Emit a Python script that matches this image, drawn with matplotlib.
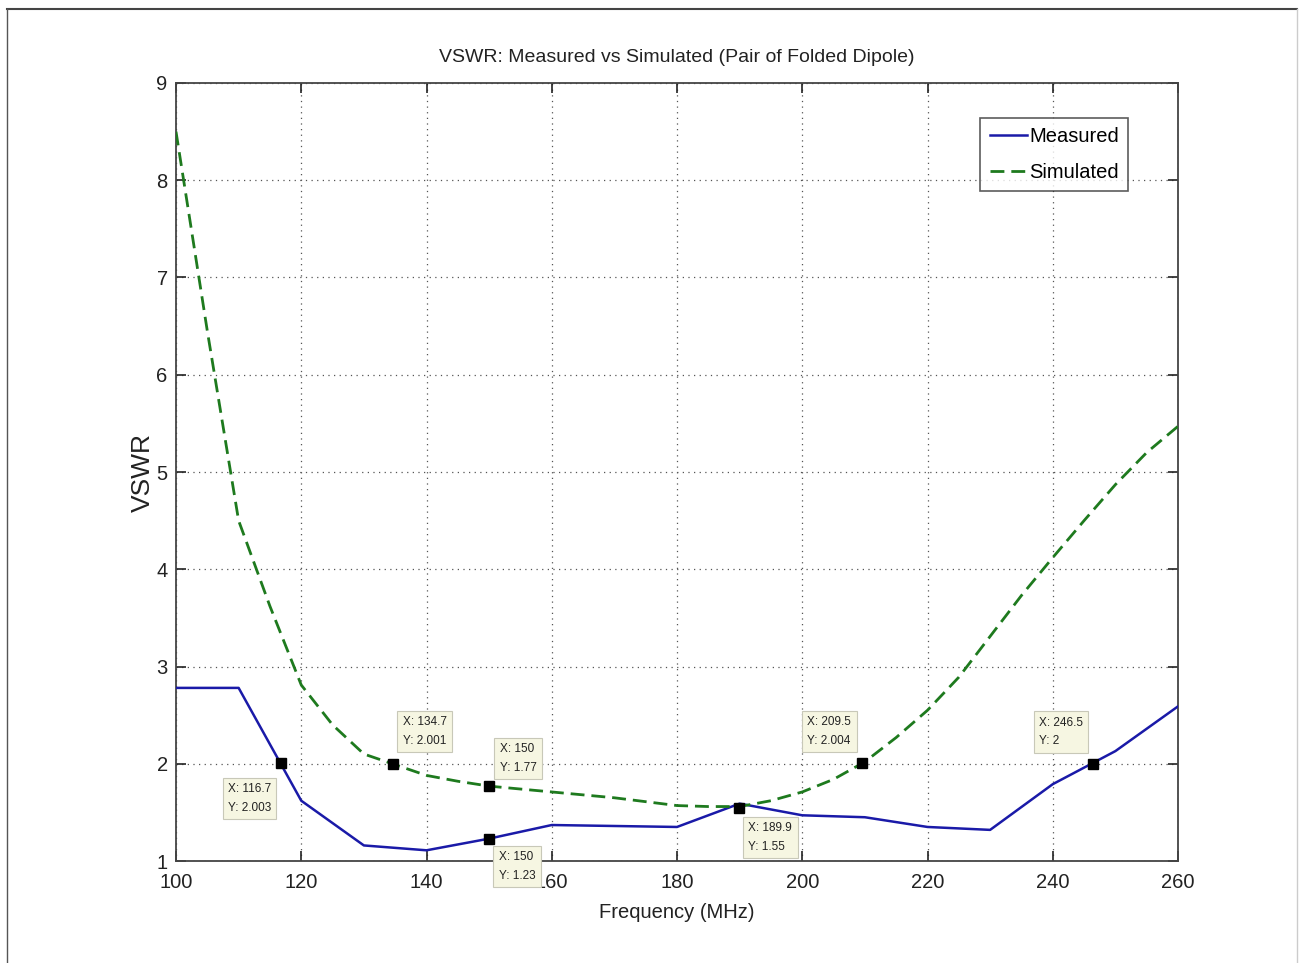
import matplotlib
matplotlib.use("Agg")
import matplotlib.pyplot as plt
from matplotlib.lines import Line2D

plt.rcParams['font.family'] = ['Liberation Sans', 'DejaVu Sans']

# ---- data ----
freq_measured = [100, 110, 120, 130, 140, 150, 160, 170, 180, 190,
                 200, 210, 220, 230, 240, 250, 260]
vswr_measured = [2.78, 2.78, 1.62, 1.16, 1.11, 1.23, 1.37, 1.36, 1.35, 1.59,
                 1.47, 1.45, 1.35, 1.32, 1.79, 2.13, 2.59]

freq_simulated = [100, 105, 110, 115, 120, 125, 130, 135, 140, 145, 150, 155,
                  160, 165, 170, 175, 180, 185, 190, 195, 200, 205, 210, 215,
                  220, 225, 230, 235, 240, 245, 250, 255, 260]
vswr_simulated = [8.50, 6.45, 4.50, 3.62, 2.81, 2.40, 2.10, 1.99, 1.88, 1.82, 1.77, 1.74,
                  1.71, 1.68, 1.65, 1.61, 1.57, 1.56, 1.56, 1.62, 1.71, 1.84, 2.02, 2.27,
                  2.55, 2.89, 3.31, 3.73, 4.12, 4.50, 4.87, 5.20, 5.47]

tip_x = [116.7, 134.7, 150, 150, 189.9, 209.5, 246.5]
tip_y = [2.003, 2.001, 1.77, 1.23, 1.55, 2.004, 2]
tip_xlabels = ["116.7", "134.7", "150", "150", "189.9", "209.5", "246.5"]
tip_ylabels = ["2.003", "2.001", "1.77", "1.23", "1.55", "2.004", "2"]

x_ticks = [100, 120, 140, 160, 180, 200, 220, 240, 260]
y_ticks = [1, 2, 3, 4, 5, 6, 7, 8, 9]

# ---- layout / style ----
tip_layout = [(-9.5, -19.5, 'right', 'top'), (9.5, 16.5, 'left', 'bottom'),
              (10.5, 12.5, 'left', 'bottom'), (9.5, -12.5, 'left', 'top'),
              (9.5, -14.5, 'left', 'top'), (-10.5, 16.5, 'right', 'bottom'),
              (-10.5, 16.5, 'right', 'bottom')]

W, H = 1305, 963
fig = plt.figure(figsize=(W / 100, H / 100), dpi=100)
fig.patch.set_facecolor('white')
ax = fig.add_axes([176 / W, 1 - 861 / H, (1178 - 176) / W, (861 - 83) / H])

ax.plot(freq_measured, vswr_measured, color='#1a1aa8', lw=1.8, label='Measured', zorder=3)
ax.plot(freq_simulated, vswr_simulated, color='#1e7a1e', lw=2.0, ls=(0, (5, 2.5)),
        label='Simulated', zorder=3)

ax.set_xlim(100, 260)
ax.set_ylim(1, 9)
ax.set_xticks(x_ticks)
ax.set_yticks(y_ticks)
ax.tick_params(direction='in', length=7, width=1.2, labelsize=14.5, colors='#222222',
               top=True, right=True)
ax.tick_params(axis='x', pad=8.5)
ax.tick_params(axis='y', pad=6)
for sp in ax.spines.values():
    sp.set_color('#444444')
    sp.set_linewidth(1.3)
ax.grid(True, color='#555555', lw=0.9, ls=(0, (1, 3.5)))
ax.set_axisbelow(True)

ax.set_title('VSWR: Measured vs Simulated (Pair of Folded Dipole)', fontsize=14,
             pad=15, color='#222222')
ax.set_xlabel('Frequency (MHz)', fontsize=14.5, labelpad=8, color='#222222')
ax.set_ylabel('VSWR', fontsize=19, labelpad=1, color='#222222')

leg = ax.legend(loc='upper right', bbox_to_anchor=((1128 - 176) / 1002, 1 - (118 - 83) / 778),
                borderaxespad=0, fontsize=14.5, frameon=True, fancybox=False,
                handlelength=1.85, handletextpad=0.12, borderpad=0.45, labelspacing=0.85)
leg.get_frame().set_edgecolor('#333333')
leg.get_frame().set_linewidth(1.2)

# data tips
for (x, y, lx, ly, (dx, dy, ha, va)) in zip(tip_x, tip_y, tip_xlabels, tip_ylabels, tip_layout):
    ax.plot([x], [y], marker='s', ms=7, color='black', zorder=5, clip_on=False)
    ax.annotate(f"X: {lx}\nY: {ly}", xy=(x, y), xytext=(dx, dy),
                textcoords='offset pixels', ha=ha, va=va, multialignment='left',
                fontsize=8.5, color='#222222', linespacing=1.75,
                annotation_clip=False, zorder=6,
                bbox=dict(boxstyle='square,pad=0.45', fc='#F6F6E2', ec='#C8C8B8', lw=0.8))

# outer frame lines
fig.add_artist(Line2D([7 / W, 1297 / W], [1 - 9 / H, 1 - 9 / H], color='#444444', lw=1.5,
                      transform=fig.transFigure))
fig.add_artist(Line2D([7 / W, 7 / W], [0, 1 - 9 / H], color='#555555', lw=1.0,
                      transform=fig.transFigure))
fig.add_artist(Line2D([1297 / W, 1297 / W], [0, 1 - 9 / H], color='#cccccc', lw=1.0,
                      transform=fig.transFigure))

fig.savefig('out.png', dpi=100)
